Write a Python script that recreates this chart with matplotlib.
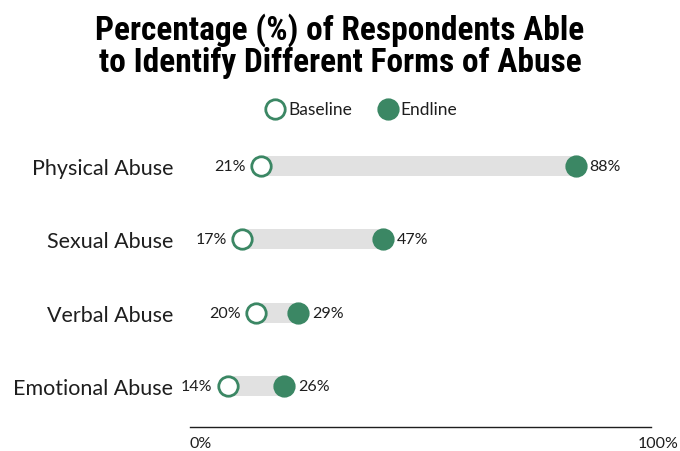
import matplotlib.pyplot as plt
from matplotlib.lines import Line2D
from matplotlib import font_manager

# data
categories = ['Physical Abuse', 'Sexual Abuse', 'Verbal Abuse', 'Emotional Abuse']
baseline = [21, 17, 20, 14]
endline = [88, 47, 29, 26]

green = '#3b8764'
grey = '#e1e1e1'
dark = '#1e1e1e'

names = {f.name for f in font_manager.fontManager.ttflist}
title_font = 'DejaVu Sans'
for cand in ['Roboto Condensed', 'Archivo Narrow', 'Barlow Condensed', 'Asap Condensed']:
    if cand in names:
        title_font = cand
        break
plt.rcParams['font.family'] = ['Lato', 'DejaVu Sans']

fig = plt.figure(figsize=(6.8, 4.52), dpi=100)
ax = fig.add_axes([162 / 680, 0.0626, 470 / 680, 0.649])

y = list(range(len(categories)))
ax.barh(y, [e - b for b, e in zip(baseline, endline)], left=baseline,
        height=0.27, color=grey, zorder=1)
ax.plot(baseline, y, 'o', ms=14, mfc='white', mec=green, mew=2, zorder=3)
ax.plot(endline, y, 'o', ms=14, mfc=green, mec=green, mew=2, zorder=3)

for yi, b, e in zip(y, baseline, endline):
    ax.annotate(f'{b}%', (b, yi), xytext=(-11, 0), textcoords='offset points',
                ha='right', va='center', fontsize=11.5, color=dark)
    ax.annotate(f'{e}%', (e, yi), xytext=(10, 0), textcoords='offset points',
                ha='left', va='center', fontsize=11.5, color=dark)

ax.set_xlim(0, 100)
ax.set_ylim(3.5, -0.5)
ax.set_yticks(y)
ax.set_yticklabels(categories, fontsize=15.5, color=dark)
ax.tick_params(axis='y', length=0, pad=-8)
ax.set_xticks([])
for s in ax.spines.values():
    s.set_visible(False)

# bottom axis line with end labels
ly = 1 - 428 / 452
fig.add_artist(Line2D([190 / 680, 651 / 680], [ly, ly], color=dark, lw=1))
fig.text(189 / 680, 1 - 444 / 452, '0%', fontsize=11.5, ha='left', va='center', color=dark)
fig.text(679 / 680, 1 - 444 / 452, '100%', fontsize=11.5, ha='right', va='center', color=dark)

# legend
ly2 = 1 - 110 / 452
fig.add_artist(Line2D([275 / 680], [ly2], marker='o', ms=14, mfc='white', mec=green, mew=2))
fig.text(288 / 680, ly2, 'Baseline', fontsize=12.5, ha='left', va='center', color=dark)
fig.add_artist(Line2D([388 / 680], [ly2], marker='o', ms=14, mfc=green, mec=green, mew=2))
fig.text(400 / 680, ly2, 'Endline', fontsize=12.5, ha='left', va='center', color=dark)

fig.text(0.5, 1 - 46 / 452, 'Percentage (%) of Respondents Able\nto Identify Different Forms of Abuse',
         ha='center', va='center', fontsize=24, fontweight='bold', family=title_font,
         linespacing=1.0, color='black')

fig.savefig('out.png', dpi=100)
